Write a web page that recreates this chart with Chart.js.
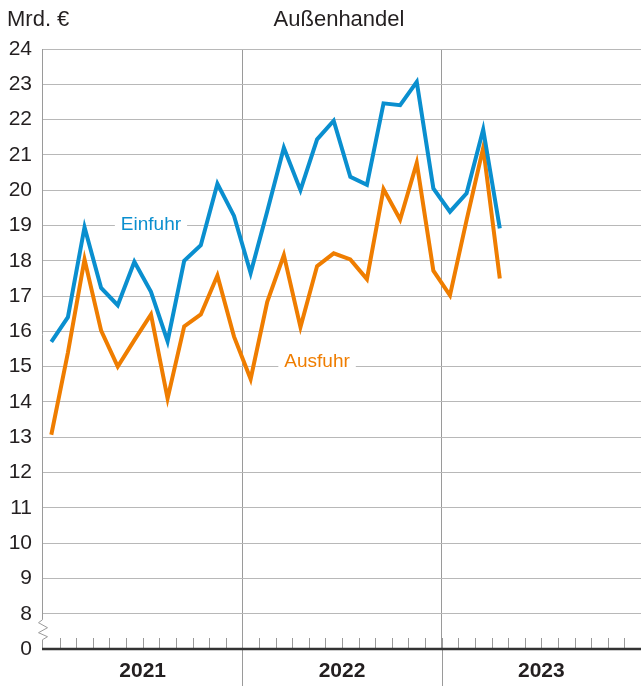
<!DOCTYPE html>
<html>
<head>
<meta charset="utf-8">
<script src="https://cdn.jsdelivr.net/npm/chart.js@4"></script>
<style>
html,body{margin:0;padding:0;background:#fff;}
#c{display:block;}
</style>
</head>
<body>
<canvas id="c" width="641" height="686"></canvas>
<script>
// ---- data (Mrd. €), monthly Jan 2021 – Apr 2023 ----
const months = ['2021-01','2021-02','2021-03','2021-04','2021-05','2021-06','2021-07','2021-08','2021-09','2021-10','2021-11','2021-12',
                '2022-01','2022-02','2022-03','2022-04','2022-05','2022-06','2022-07','2022-08','2022-09','2022-10','2022-11','2022-12',
                '2023-01','2023-02','2023-03','2023-04'];
const einfuhr = [15.7, 16.4, 18.95, 17.23, 16.74, 17.97, 17.12, 15.72, 18.0, 18.44, 20.18, 19.27,
                 17.65, 19.4, 21.2, 20.0, 21.44, 21.97, 20.38, 20.15, 22.46, 22.41, 23.07, 20.05,
                 19.39, 19.91, 21.72, 18.92];
const ausfuhr = [13.07, 15.4, 18.04, 16.02, 15.0, 15.75, 16.48, 14.1, 16.14, 16.48, 17.58, 15.85,
                 14.65, 16.84, 18.16, 16.12, 17.85, 18.21, 18.04, 17.48, 20.03, 19.17, 20.77, 17.72,
                 17.02, 19.15, 21.2, 17.5];
const years = ['2021', '2022', '2023'];
const yTickValues = [7, 8, 9, 10, 11, 12, 13, 14, 15, 16, 17, 18, 19, 20, 21, 22, 23, 24]; // 7 is drawn as "0" (axis break)
const yTickLabels = ['0', '8', '9', '10', '11', '12', '13', '14', '15', '16', '17', '18', '19', '20', '21', '22', '23', '24'];
const seriesNames = ['Einfuhr', 'Ausfuhr'];
const title = 'Außenhandel';
const unit = 'Mrd. €';

const BLUE = '#0a8fcf';
const ORANGE = '#ef7d00';
const TEXT = '#231f20';
const GRID = '#b8b8b8';
const AXIS = '#9a9a9a';
const FONT = "'Liberation Sans', Arial, sans-serif";

const monthsPerYear = 12;
const totalMonths = years.length * monthsPerYear;
const boundaries = years.slice(1).map((_, i) => (i + 1) * monthsPerYear - 0.5);
const centers = years.map((_, i) => i * monthsPerYear + monthsPerYear / 2 - 0.5);

const decorPlugin = {
  id: 'decor',
  afterDatasetsDraw(chart) {
    const ctx = chart.ctx;
    const xs = chart.scales.x, ys = chart.scales.y;
    const area = chart.chartArea;
    ctx.save();
    // month ticks pointing up from the baseline
    ctx.strokeStyle = AXIS;
    ctx.lineWidth = 1;
    for (let i = 1; i < totalMonths; i++) {
      const x = Math.round(xs.getPixelForValue(i - 0.5)) + 0.5;
      ctx.beginPath();
      ctx.moveTo(x, area.bottom - 11);
      ctx.lineTo(x, area.bottom);
      ctx.stroke();
    }
    // year separators extending below the plot
    boundaries.forEach(b => {
      const x = Math.round(xs.getPixelForValue(b)) + 0.5;
      ctx.beginPath();
      ctx.moveTo(x, area.bottom);
      ctx.lineTo(x, chart.height);
      ctx.stroke();
    });
    // y axis line with break
    const x0 = Math.round(area.left) - 0.5;
    const y8 = ys.getPixelForValue(8);
    const yb = area.bottom;
    ctx.beginPath();
    ctx.moveTo(x0, area.top);
    ctx.lineTo(x0, y8 + 6);
    ctx.lineTo(x0 - 4, y8 + 9);
    ctx.lineTo(x0 + 5, y8 + 14);
    ctx.lineTo(x0 - 4, y8 + 19);
    ctx.lineTo(x0 + 5, y8 + 23);
    ctx.lineTo(x0, y8 + 26);
    ctx.lineTo(x0, yb);
    ctx.stroke();
    // baseline
    ctx.strokeStyle = '#333';
    ctx.lineWidth = 2.5;
    ctx.beginPath();
    ctx.moveTo(area.left - 1, yb);
    ctx.lineTo(area.right, yb);
    ctx.stroke();

    // series labels with white background
    ctx.font = '19px ' + FONT;
    ctx.textAlign = 'center';
    ctx.textBaseline = 'middle';
    const lab = [
      {t: seriesNames[0], x: 6, y: 19.05, c: BLUE},
      {t: seriesNames[1], x: 16, y: 15.17, c: ORANGE}
    ];
    lab.forEach(l => {
      const px = xs.getPixelForValue(l.x), py = ys.getPixelForValue(l.y);
      const w = ctx.measureText(l.t).width;
      ctx.fillStyle = '#fff';
      ctx.fillRect(px - w / 2 - 6, py - 10, w + 12, 20);
      ctx.fillStyle = l.c;
      ctx.fillText(l.t, px, py + 1);
    });

    // title and unit
    ctx.fillStyle = TEXT;
    ctx.font = '22px ' + FONT;
    ctx.textBaseline = 'middle';
    ctx.textAlign = 'left';
    ctx.fillText(unit, 7, 20);
    ctx.textAlign = 'center';
    ctx.fillText(title, 339, 20);
    ctx.restore();
  }
};

new Chart(document.getElementById('c'), {
  type: 'line',
  data: {
    datasets: [
      {label: seriesNames[0], data: einfuhr.map((v, i) => ({x: i, y: v})), borderColor: BLUE},
      {label: seriesNames[1], data: ausfuhr.map((v, i) => ({x: i, y: v})), borderColor: ORANGE}
    ]
  },
  options: {
    responsive: false,
    animation: false,
    devicePixelRatio: 1,
    layout: {padding: {top: 49, right: 0, bottom: 0, left: 0}},
    elements: {
      line: {borderWidth: 4, tension: 0, borderJoinStyle: 'miter', borderCapStyle: 'butt', fill: false},
      point: {radius: 0, hoverRadius: 0}
    },
    plugins: {legend: {display: false}, tooltip: {enabled: false}, title: {display: false}},
    scales: {
      x: {
        type: 'linear',
        min: -0.5,
        max: totalMonths - 0.5,
        afterBuildTicks(scale) {
          scale.ticks = boundaries.map(v => ({value: v})).concat(centers.map(v => ({value: v})));
        },
        afterFit(scale) { scale.height = 37; },
        grid: {
          drawTicks: false,
          color: c => (c.tick && boundaries.includes(c.tick.value)) ? AXIS : 'rgba(0,0,0,0)',
          lineWidth: 1
        },
        border: {display: false},
        ticks: {
          autoSkip: false,
          maxRotation: 0,
          minRotation: 0,
          padding: 10,
          color: TEXT,
          font: {family: FONT, size: 21, weight: 'bold'},
          callback: v => {
            const idx = centers.indexOf(v);
            return idx >= 0 ? years[idx] : '';
          }
        }
      },
      y: {
        type: 'linear',
        min: yTickValues[0],
        max: yTickValues[yTickValues.length - 1],
        afterBuildTicks(scale) {
          scale.ticks = yTickValues.map(v => ({value: v}));
        },
        afterFit(scale) { scale.width = 43; },
        grid: {
          drawTicks: false,
          color: c => (c.tick && c.tick.value === yTickValues[0]) ? 'rgba(0,0,0,0)' : GRID,
          lineWidth: 1
        },
        border: {display: false},
        ticks: {
          padding: 11,
          color: TEXT,
          font: {family: FONT, size: 21},
          callback: v => {
            const idx = yTickValues.indexOf(v);
            return idx >= 0 ? yTickLabels[idx] : '';
          }
        }
      }
    }
  },
  plugins: [decorPlugin]
});
</script>
</body>
</html>
